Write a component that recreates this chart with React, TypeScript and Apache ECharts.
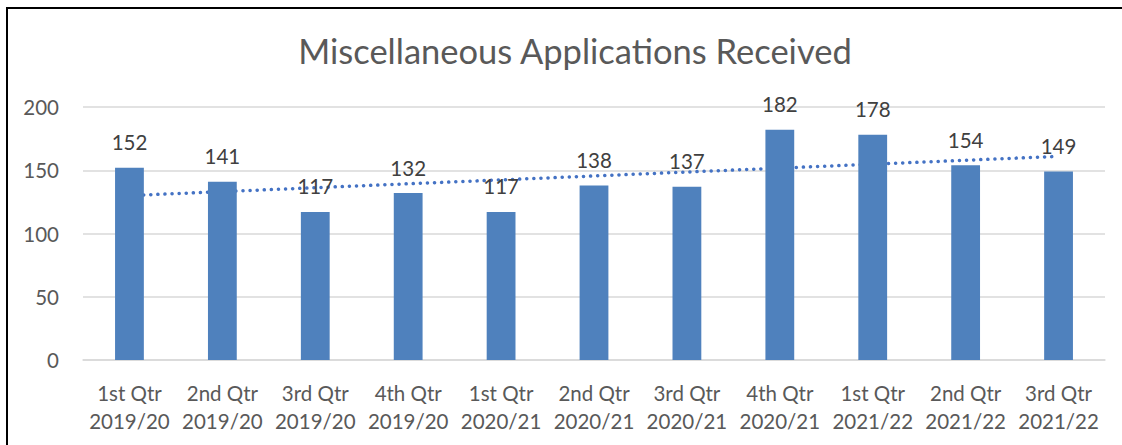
import React, { useEffect, useRef } from "react";
import * as echarts from "echarts";

const categories = [
  "1st Qtr\n2019/20",
  "2nd Qtr\n2019/20",
  "3rd Qtr\n2019/20",
  "4th Qtr\n2019/20",
  "1st Qtr\n2020/21",
  "2nd Qtr\n2020/21",
  "3rd Qtr\n2020/21",
  "4th Qtr\n2020/21",
  "1st Qtr\n2021/22",
  "2nd Qtr\n2021/22",
  "3rd Qtr\n2021/22",
];
const applications = [152, 141, 117, 132, 117, 138, 137, 182, 178, 154, 149];
// Linear trendline endpoints (first and last category)
const trendStart = 130;
const trendEnd = 161;
const yTicks = { min: 0, max: 200, interval: 50 };
const title = "Miscellaneous Applications Received";

const FONT = "Lato, 'Open Sans', sans-serif";

export default function App() {
  const ref = useRef<HTMLDivElement>(null);
  useEffect(() => {
    if (!ref.current) return;
    const chart = echarts.init(ref.current, undefined, { renderer: "svg" });
    const last = categories.length - 1;
    chart.setOption({
      animation: false,
      backgroundColor: "#ffffff",
      textStyle: { fontFamily: FONT },
      title: {
        text: title,
        left: 570,
        textAlign: "center",
        top: 28,
        textStyle: {
          fontFamily: FONT,
          fontSize: 34.5,
          fontWeight: "normal",
          color: "#595959",
        },
      },
      grid: { left: 83, right: 17, top: 107, bottom: 85, containLabel: false },
      xAxis: {
        type: "category",
        data: categories,
        axisLine: { show: true, lineStyle: { color: "#d9d9d9", width: 1.5 } },
        axisTick: { show: false },
        axisLabel: {
          color: "#595959",
          fontSize: 20.5,
          fontFamily: FONT,
          lineHeight: 28,
          margin: 19,
          interval: 0,
        },
      },
      yAxis: {
        type: "value",
        min: yTicks.min,
        max: yTicks.max,
        interval: yTicks.interval,
        axisLine: { show: false },
        axisTick: { show: false },
        splitLine: { lineStyle: { color: "#d9d9d9", width: 1.5 } },
        axisLabel: {
          color: "#595959",
          fontSize: 20.5,
          fontFamily: FONT,
          margin: 24,
        },
      },
      series: [
        {
          type: "line",
          data: [
            [0, trendStart],
            [last, trendEnd],
          ],
          symbol: "none",
          z: 1,
          lineStyle: { color: "#4472C4", width: 3.5, type: [0.1, 7], cap: "round" },
          silent: true,
        },
        {
          type: "bar",
          data: applications,
          barWidth: "31%",
          z: 2,
          itemStyle: { color: "#4F81BD" },
          label: {
            show: true,
            position: "top",
            distance: 15,
            color: "#404040",
            fontSize: 20.5,
            fontFamily: FONT,
          },
        },
      ],
      graphic: [
        {
          type: "rect",
          shape: { x: 7, y: 8, width: 1130, height: 460 },
          style: { fill: "none", stroke: "#000000", lineWidth: 2 },
          silent: true,
          z: 100,
        },
      ],
    });
    return () => chart.dispose();
  }, []);
  return (
    <div
      ref={ref}
      style={{ position: "fixed", left: 0, top: 0, width: 1122, height: 445 }}
    />
  );
}
